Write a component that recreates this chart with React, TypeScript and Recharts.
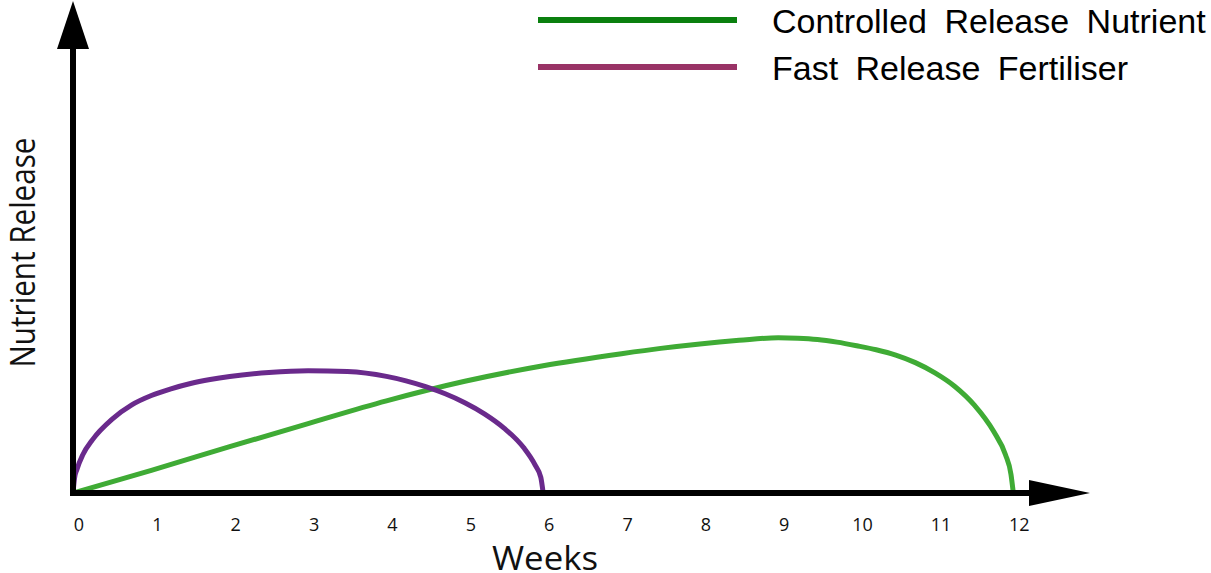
import React from "react";
import { LineChart, Line, XAxis, YAxis, ReferenceDot, Label } from "recharts";

// weeks on the x axis
const weekTicks = [0, 1, 2, 3, 4, 5, 6, 7, 8, 9, 10, 11, 12];

// fast release fertiliser (arbitrary release units)
const fastWeeks = [0, 0.02, 0.05, 0.125, 0.25, 0.5, 0.75, 1, 1.25, 1.5, 1.75, 2, 2.5, 3, 3.5, 4, 4.25, 4.5, 4.75, 5, 5.25, 5.5, 5.75, 5.9, 5.97, 6];
const fastValues = [0, 3.4, 5.3, 8.6, 12.0, 16.6, 19.8, 21.9, 23.4, 24.6, 25.5, 26.2, 27.1, 27.5, 27.3, 26.2, 25.2, 23.9, 22.3, 20.3, 17.8, 14.6, 10.2, 6.2, 3.5, 0];

// controlled release nutrient
const controlledWeeks = [0, 1, 2, 3, 4, 5, 6, 7, 7.5, 8, 8.5, 9, 9.25, 9.5, 9.75, 10, 10.25, 10.5, 10.75, 11, 11.25, 11.5, 11.75, 11.9, 11.97, 12];
const controlledValues = [0, 5.1, 10.4, 15.6, 20.7, 25.1, 28.6, 31.3, 32.5, 33.5, 34.3, 34.9, 34.8, 34.5, 33.9, 33.1, 32.2, 31.0, 29.3, 27.0, 24.0, 19.8, 13.8, 8.6, 4.2, 0];

const legendNames = ["Controlled Release Nutrient", "Fast Release Fertiliser"];
const legendColors = ["#0a800f", "#993366"];

const fastData = fastWeeks.map((w, i) => ({ week: w, value: fastValues[i] }));
const controlledData = controlledWeeks.map((w, i) => ({ week: w, value: controlledValues[i] }));

const xMax = 12.2;
const yMax = 100;

const RightArrow = (props: any) => {
  const { cx, cy } = props;
  return <polygon points={`${cx},${cy - 13} ${cx + 61},${cy} ${cx},${cy + 13}`} fill="#000" />;
};

const UpArrow = (props: any) => {
  const { cx, cy } = props;
  return <polygon points={`${cx - 16},${cy + 1} ${cx},${cy - 47} ${cx + 16},${cy + 1}`} fill="#000" />;
};

const YTitle = (props: any) => {
  const { viewBox } = props;
  const x = viewBox.x + 35;
  const y = viewBox.y + viewBox.height / 2 - 18;
  return (
    <text
      x={x}
      y={y}
      transform={`rotate(-90, ${x}, ${y})`}
      textAnchor="middle"
      fontFamily="Open Sans"
      fontSize={35}
      textLength={230}
      lengthAdjust="spacingAndGlyphs"
      fill="#111"
    >
      Nutrient Release
    </text>
  );
};

const XTitle = (props: any) => {
  const { viewBox } = props;
  return (
    <text
      x={viewBox.x + viewBox.width / 2 - 6}
      y={viewBox.y + 77}
      textAnchor="middle"
      fontFamily="Open Sans"
      fontSize={32}
      textLength={106}
      lengthAdjust="spacingAndGlyphs"
      fill="#111"
    >
      Weeks
    </text>
  );
};

const ChartLegend = () => (
  <svg width={1211} height={100} style={{ position: "absolute", left: 0, top: 0, pointerEvents: "none" }}>
    {legendNames.map((name, i) => (
      <g key={name}>
        <line x1={538} x2={737} y1={20 + i * 47} y2={20 + i * 47} stroke={legendColors[i]} strokeWidth={6} />
        <text
          x={772}
          y={33 + i * 47}
          fontFamily="Liberation Sans, Arial"
          fontSize={34}
          wordSpacing={8}
          fill="#000"
        >
          {name}
        </text>
      </g>
    ))}
  </svg>
);

export default function App() {
  return (
    <div style={{ position: "absolute", left: 0, top: 0, width: 1211, height: 573, background: "#fff" }}>
      <LineChart width={1211} height={573} margin={{ top: 48, right: 182, bottom: 0, left: 0 }}>
        <XAxis
          type="number"
          dataKey="week"
          domain={[0, xMax]}
          ticks={weekTicks}
          interval={0}
          allowDataOverflow
          height={80}
          tickLine={false}
          tickSize={0}
          tickMargin={25}
          axisLine={{ stroke: "#000", strokeWidth: 6, strokeLinecap: "square" }}
          tick={{ fontFamily: "Open Sans", fontSize: 18, fill: "#111", dx: 6 }}
        >
          <Label content={XTitle} />
        </XAxis>
        <YAxis
          type="number"
          domain={[0, yMax]}
          width={73}
          tick={false}
          tickLine={false}
          axisLine={{ stroke: "#000", strokeWidth: 6, strokeLinecap: "square" }}
        >
          <Label content={YTitle} />
        </YAxis>
        <Line
          data={controlledData}
          dataKey="value"
          type="monotone"
          stroke="#3fab35"
          strokeWidth={5}
          dot={false}
          isAnimationActive={false}
        />
        <Line
          data={fastData}
          dataKey="value"
          type="monotone"
          stroke="#6a2a8c"
          strokeWidth={5}
          dot={false}
          isAnimationActive={false}
        />
        <ReferenceDot x={xMax} y={0} r={0} shape={RightArrow} />
        <ReferenceDot x={0} y={yMax} r={0} shape={UpArrow} />
      </LineChart>
      <ChartLegend />
    </div>
  );
}
